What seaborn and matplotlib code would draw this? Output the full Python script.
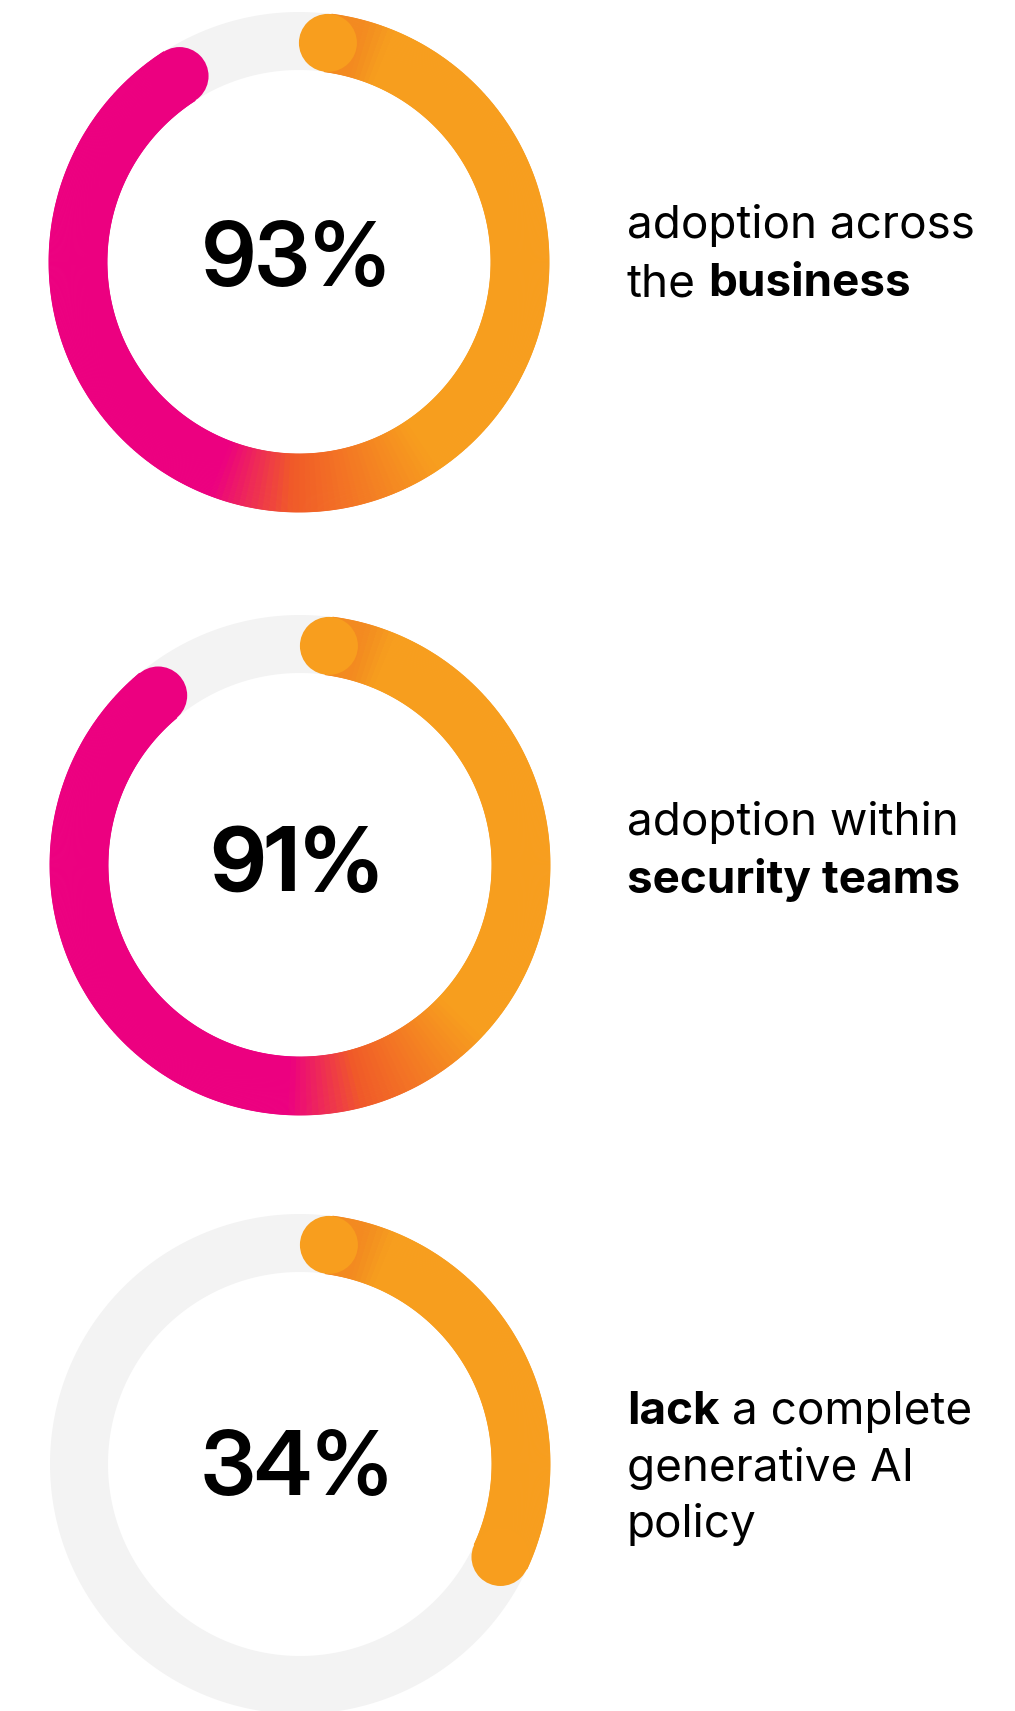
import numpy as np
import matplotlib
matplotlib.use("Agg")
import matplotlib.pyplot as plt
from matplotlib.collections import PolyCollection
from matplotlib.patches import Ellipse, PathPatch
from matplotlib.path import Path
from matplotlib.colors import LinearSegmentedColormap
import seaborn as sns

# ---- data -------------------------------------------------------------
values = [93, 91, 34]
value_labels = ["93%", "91%", "34%"]
caption_lines = [
    [[("adoption across", False)], [("the", False), ("business", True)]],
    [[("adoption within", False)], [("security teams", True)]],
    [[("lack", True), ("a complete", False)], [("generative AI", False)], [("policy", False)]],
]

# ---- style ------------------------------------------------------------
sns.set_theme(style="white")
plt.rcParams["font.family"] = ["Inter", "DejaVu Sans"]

ORANGE = "#F89E1E"
DARK_ORANGE = "#F38A20"
RED_ORANGE = "#F05A28"
MAGENTA = "#EC0080"
TRACK = "#F3F3F3"
palette = sns.color_palette([DARK_ORANGE, ORANGE, RED_ORANGE, MAGENTA])

# angles (deg, clockwise from 12 o'clock) where each ring's colour shifts
# orange -> red-orange -> magenta
blend_angles = [(146, 182, 201), (133, 165, 183), (146, 182, 201)]


def ring_cmap(orange_end, red_mid, magenta_start):
    return LinearSegmentedColormap.from_list(
        "ring",
        [(0.0, palette[0]), (15 / 360, palette[0]), (22 / 360, palette[1]),
         (orange_end / 360, palette[1]), (red_mid / 360, palette[2]),
         (magenta_start / 360, palette[3]), (1.0, palette[3])],
    )


W, H = 1015, 1711
fig = plt.figure(figsize=(W / 100, H / 100), dpi=100)
ax = fig.add_axes([0, 0, 1, 1])
ax.set_xlim(0, W)
ax.set_ylim(H, 0)
ax.axis("off")

centers = [(299, 262), (300, 865), (300, 1464)]
label_baselines = [286, 891, 1495]
label_weights = [600, 700, 600]
R_OUT, R_IN = 250.0, 192.0
R_MID = (R_OUT + R_IN) / 2
HALF_W = (R_OUT - R_IN) / 2
CAP_DEG = np.degrees(HALF_W / R_MID)

caption_x = 627
caption_baselines = [[238, 296], [835, 893], [1424, 1481, 1537]]
caption_size = 33
value_size = 64


def ring_point(cx, cy, r, deg):
    t = np.radians(deg)
    return cx + r * np.sin(t), cy - r * np.cos(t)


def draw_track(cx, cy):
    th = np.linspace(0, 360, 361)
    ox, oy = ring_point(cx, cy, R_OUT, th)
    ix, iy = ring_point(cx, cy, R_IN, th[::-1])
    verts = np.concatenate([np.column_stack([ox, oy]), np.column_stack([ix, iy])])
    codes = np.full(len(verts), Path.LINETO)
    codes[0] = Path.MOVETO
    codes[len(th)] = Path.MOVETO
    ax.add_patch(PathPatch(Path(verts, codes), facecolor=TRACK, edgecolor="none", zorder=1))


def draw_arc(cx, cy, value, cmap):
    end_deg = value / 100 * 360
    a0, a1 = CAP_DEG, end_deg - CAP_DEG
    n = max(int((a1 - a0) * 4), 2)
    th = np.linspace(a0, a1, n + 1)
    quads, cols = [], []
    for t0, t1 in zip(th[:-1], th[1:]):
        quads.append([ring_point(cx, cy, R_OUT, t0), ring_point(cx, cy, R_OUT, t1),
                      ring_point(cx, cy, R_IN, t1), ring_point(cx, cy, R_IN, t0)])
        cols.append(cmap(((t0 + t1) / 2) / 360))
    ax.add_collection(PolyCollection(quads, facecolors=cols, edgecolors=cols,
                                     linewidths=0.6, zorder=2))
    # rounded ends
    for deg, col in [(a1, cmap(a1 / 360)), (a0, ORANGE)]:
        x, y = ring_point(cx, cy, R_MID, deg)
        ax.add_patch(Ellipse((x, y), 2 * HALF_W, 2 * HALF_W, facecolor=col,
                             edgecolor="none", zorder=3))


fig.canvas.draw()
renderer = fig.canvas.get_renderer()
space_px = 0.27 * caption_size * 100 / 72

for (cx, cy), v, lab, base_v, wt, angs, lines, bases in zip(
        centers, values, value_labels, label_baselines, label_weights,
        blend_angles, caption_lines, caption_baselines):
    draw_track(cx, cy)
    draw_arc(cx, cy, v, ring_cmap(*angs))
    ax.text(cx - 3, base_v, lab, ha="center", va="baseline", fontsize=value_size,
            fontweight=wt, family=["Inter Display", "Inter", "DejaVu Sans"],
            color="#000000", zorder=4)
    for pieces, base in zip(lines, bases):
        x = caption_x
        for txt, bold in pieces:
            t = ax.text(x, base, txt, ha="left", va="baseline", fontsize=caption_size,
                        fontweight="bold" if bold else "normal", color="#000000")
            bb = t.get_window_extent(renderer)
            x += bb.width + space_px

fig.savefig("out.png", dpi=100, facecolor="white")
